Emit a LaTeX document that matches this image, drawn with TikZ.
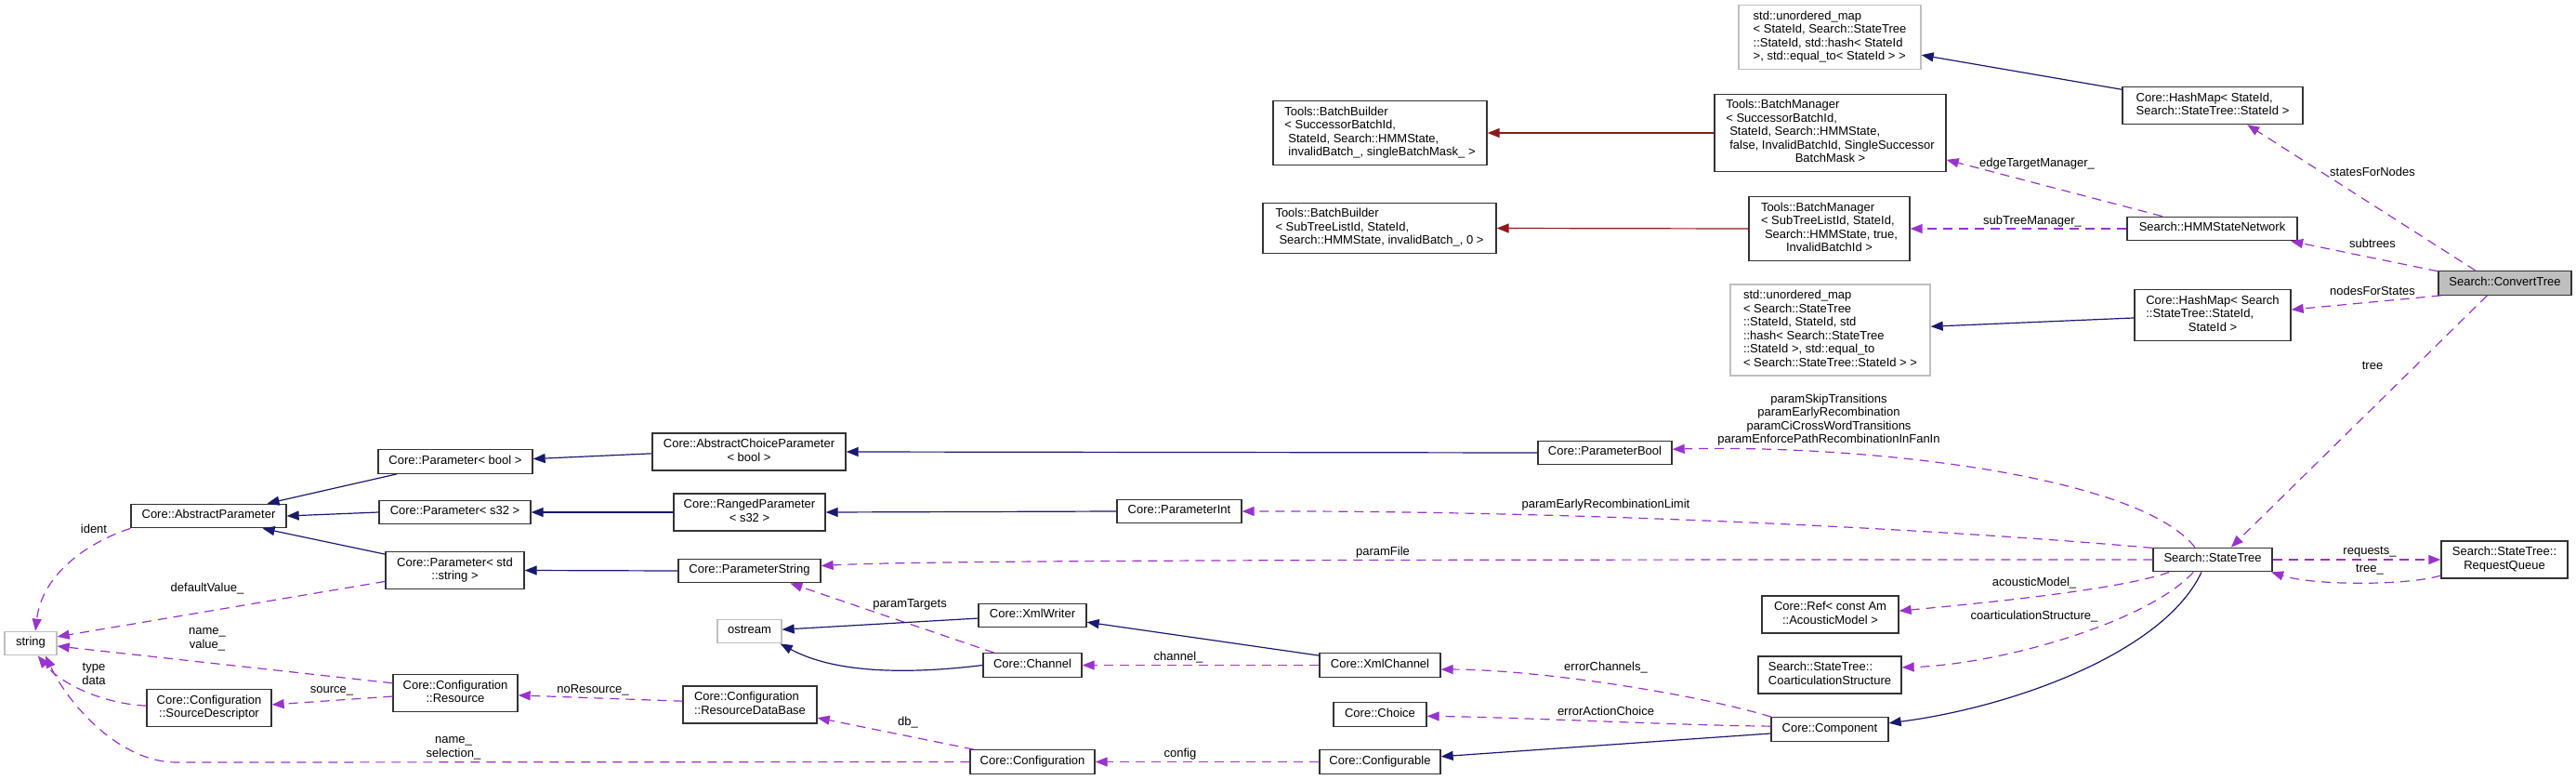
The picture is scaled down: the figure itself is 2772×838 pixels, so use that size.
\documentclass[tikz,border=0pt]{standalone}
\usepackage{fontspec}
\setmainfont{Liberation Sans}
\usetikzlibrary{arrows.meta}
\definecolor{navyc}{HTML}{191970}
\definecolor{purp}{HTML}{9A32CD}
\definecolor{firec}{HTML}{8B1A1A}
\definecolor{grayb}{HTML}{BFBFBF}
\definecolor{boxline}{HTML}{333333}
\newcommand{\nodetext}[1]{\begin{tabular}{@{}l@{}}#1\end{tabular}}
\newcommand{\lastc}[1]{\multicolumn{1}{@{}c@{}}{#1}}
\begin{document}
\begin{tikzpicture}[x=1pt,y=-1pt,
  box/.style={draw=boxline, line width=1.3pt, inner xsep=4pt, inner ysep=5.5pt, font=\fontsize{13}{14.5}\selectfont, fill=white},
  gbox/.style={box, draw=grayb},
  elab/.style={font=\fontsize{13}{14.5}\selectfont, inner sep=0pt, align=center},
  inh/.style={draw=navyc, line width=1.2pt, -{Triangle[length=13pt,width=10pt]}},
  use/.style={draw=purp, line width=1.2pt, dash pattern=on 10pt off 7pt, -{Triangle[length=13pt,width=10pt]}},
  tmpl/.style={draw=firec, line width=1.2pt, -{Triangle[length=13pt,width=10pt]}},
]
\useasboundingbox (0,0) rectangle (2772,838);

% ---- nodes ----
\node[gbox, minimum width=196pt] (um1) at (1969,40) {\nodetext{std::unordered\_map\\< StateId, Search::StateTree\\::StateId, std::hash< StateId\\>, std::equal\_to< StateId > >}};
\node[box, minimum width=194pt] (hm1) at (2381,113.5) {\nodetext{Core::HashMap< StateId,\\Search::StateTree::StateId >}};
\node[box, minimum width=249pt] (bm1) at (1969.5,143) {\nodetext{Tools::BatchManager\\< SuccessorBatchId,\\\hspace{4pt}StateId, Search::HMMState,\\\hspace{4pt}false, InvalidBatchId, SingleSuccessor\\\lastc{BatchMask >}}};
\node[box, minimum width=230pt] (bb1) at (1485,143) {\nodetext{Tools::BatchBuilder\\< SuccessorBatchId,\\\hspace{4pt}StateId, Search::HMMState,\\\hspace{4pt}invalidBatch\_, singleBatchMask\_ >}};
\node[box, minimum width=183pt] (hsn) at (2380.5,246) {\nodetext{Search::HMMStateNetwork}};
\node[box, minimum width=173pt] (bm2) at (1968.5,246) {\nodetext{Tools::BatchManager\\< SubTreeListId, StateId,\\\hspace{4pt}Search::HMMState, true,\\\lastc{InvalidBatchId >}}};
\node[box, minimum width=251pt] (bb2) at (1484.5,245.5) {\nodetext{Tools::BatchBuilder\\< SubTreeListId, StateId,\\\hspace{4pt}Search::HMMState, invalidBatch\_, 0 >}};
\node[box, fill=grayb, minimum width=143pt] (ct) at (2695.5,304.5) {\nodetext{Search::ConvertTree}};
\node[gbox, minimum width=215pt] (um2) at (1969.5,355) {\nodetext{std::unordered\_map\\< Search::StateTree\\::StateId, StateId, std\\::hash< Search::StateTree\\::StateId >, std::equal\_to\\< Search::StateTree::StateId > >}};
\node[box, minimum width=168pt] (hm2) at (2381,339) {\nodetext{Core::HashMap< Search\\::StateTree::StateId,\\\lastc{StateId >}}};
\node[box, minimum width=128pt] (st) at (2381,602) {\nodetext{Search::StateTree}};
\node[box, minimum width=136pt] (rq) at (2695,602) {\nodetext{Search::StateTree::\\\lastc{RequestQueue}}};
\node[box, minimum width=147pt] (ref) at (1969.5,661) {\nodetext{Core::Ref< const Am\\\lastc{::AcousticModel >}}};
\node[box, minimum width=154pt] (cs) at (1969,726) {\nodetext{Search::StateTree::\\CoarticulationStructure}};
\node[box, minimum width=126pt] (comp) at (1969,784.5) {\nodetext{Core::Component}};
\node[box, minimum width=144pt] (pb) at (1727,487) {\nodetext{Core::ParameterBool}};
\node[box, minimum width=134pt] (pi) at (1269,550) {\nodetext{Core::ParameterInt}};
\node[box, minimum width=116pt] (xw) at (1111,662) {\nodetext{Core::XmlWriter}};
\node[box, minimum width=106pt] (ch) at (1111,715.5) {\nodetext{Core::Channel}};
\node[box, minimum width=130pt] (xc) at (1485,715.5) {\nodetext{Core::XmlChannel}};
\node[box, minimum width=100pt] (cho) at (1485,768.5) {\nodetext{Core::Choice}};
\node[box, minimum width=134pt] (cfg) at (1111,819.5) {\nodetext{Core::Configuration}};
\node[box, minimum width=130pt] (cfb) at (1485,819.5) {\nodetext{Core::Configurable}};
\node[box, minimum width=208pt] (acp) at (806,486) {\nodetext{Core::AbstractChoiceParameter\\\lastc{< bool >}}};
\node[box, minimum width=166pt] (pbool) at (490,496.5) {\nodetext{Core::Parameter< bool >}};
\node[box, minimum width=167pt] (ap) at (224.5,555) {\nodetext{Core::AbstractParameter}};
\node[box, minimum width=163pt] (ps32) at (489.5,551) {\nodetext{Core::Parameter< s32 >}};
\node[box, minimum width=163pt] (rp) at (806.5,551) {\nodetext{Core::RangedParameter\\\lastc{< s32 >}}};
\node[box, minimum width=149pt] (pstd) at (489.5,613.5) {\nodetext{Core::Parameter< std\\\lastc{::string >}}};
\node[box, minimum width=153pt] (pstr) at (806.5,614) {\nodetext{Core::ParameterString}};
\node[gbox, minimum width=69pt] (os) at (806.5,679) {\nodetext{ostream}};
\node[gbox, minimum width=56pt] (str) at (33,692) {\nodetext{string}};
\node[box, minimum width=134pt] (res) at (490,745.5) {\nodetext{Core::Configuration\\\lastc{::Resource}}};
\node[box, minimum width=134pt] (sd) at (225,761.5) {\nodetext{Core::Configuration\\\lastc{::SourceDescriptor}}};
\node[box, minimum width=144pt] (rdb) at (807,758) {\nodetext{Core::Configuration\\::ResourceDataBase}};

% ---- edges ----
\draw[inh] (hm1.170) -- (um1.-11);
\draw[tmpl] (bm1.west) -- (bb1.east);
\draw[tmpl] (bm2.west) -- (bb2.east);
\draw[use] (hsn.166) -- (bm1.-13.5);
\draw[use] (hsn.west) -- (bm2.east);
\draw[use] (ct.157) -- (hm1.-29.7);
\draw[use] (ct.170) -- (hsn.-9.9);
\draw[use] (ct.-169.4) -- (hm2.4);
\draw[inh] (hm2.182) -- (um2.2.7);
\draw[use] (ct.-145.3) -- (st.34.4);
\draw[use] (st.east) -- (rq.west);
\draw[use] (rq.-166.8) .. controls (2590,630) and (2490,630) .. (st.-12);
\draw[inh] (st.-132.7) .. controls (2330,700) and (2170,760) .. (comp.6.8);
\draw[use] (st.-164.5) .. controls (2280,635) and (2120,650) .. (ref.3.1);
\draw[use] (st.-147) .. controls (2310,670) and (2150,715) .. (cs.6.7);
\draw[use] (st.145) .. controls (2300,510) and (2000,478) .. (pb.3.2);
\draw[use] (st.169.4) .. controls (2100,570) and (1700,549) .. (pi.east);
\draw[use] (st.west) .. controls (1600,602) and (1000,602) .. (pstr.4.5);
\draw[use] (ch.162.5) -- (pstr.-17);
\draw[inh] (xw.183) -- (os.3.3);
\draw[inh] (ch.west) .. controls (980,725) and (900,725) .. (os.-22);
\draw[inh] (xc.171.7) -- (xw.-7.9);
\draw[use] (xc.west) -- (ch.east);
\draw[use] (comp.168.8) .. controls (1820,745) and (1650,720) .. (xc.-4);
\draw[use] (comp.177.7) .. controls (1800,780) and (1650,772) .. (cho.-2.9);
\draw[inh] (comp.184) -- (cfb.5.7);
\draw[use] (cfb.west) -- (cfg.east);
\draw[use] (cfg.168.6) -- (rdb.-11.8);
\draw[use] (cfg.west) -- (190,820) .. controls (130,820) and (75,760) .. (str.-40);
\draw[use] (ap.-171) .. controls (90,585) and (45,620) .. (str.69);
\draw[use] (pstd.-171.2) -- (str.14);
\draw[use] (res.171) -- (str.-6);
\draw[use] (sd.178.7) .. controls (110,757) and (65,735) .. (str.-60);
\draw[use] (res.183.8) -- (sd.3.8);
\draw[use] (rdb.177.6) -- (res.-2.1);
\draw[inh] (pbool.-168) -- (ap.12.3);
\draw[inh] (ps32.west) -- (ap.east);
\draw[inh] (pstd.167.5) -- (ap.-13.2);
\draw[inh] (acp.181.7) -- (pbool.2.4);
\draw[inh] (rp.west) -- (ps32.east);
\draw[inh] (pstr.west) -- (pstd.east);
\draw[inh] (pb.west) -- (acp.east);
\draw[inh] (pi.west) -- (rp.east);

% ---- edge labels ----
\node[elab] (l1) at (2192,176) {edgeTargetManager\_};
\node[elab] (l2) at (2187,238) {subTreeManager\_};
\node[elab] (l3) at (2553,185) {statesForNodes};
\node[elab] (l4) at (2553,262) {subtrees};
\node[elab] (l5) at (2553,313) {nodesForStates};
\node[elab] (l6) at (2553,393) {tree};
\node[elab] (l7) at (2550,594) {requests\_};
\node[elab] (l8) at (2550,613) {tree\_};
\node[elab] (l9) at (2189,627) {acousticModel\_};
\node[elab] (l10) at (2189,663) {coarticulationStructure\_};
\node[elab] (l11) at (1968,451.5) {paramSkipTransitions\\paramEarlyRecombination\\paramCiCrossWordTransitions\\paramEnforcePathRecombinationInFanIn};
\node[elab] (l12) at (1728,543) {paramEarlyRecombinationLimit};
\node[elab] (l13) at (1488,594) {paramFile};
\node[elab] (l14) at (979,650) {paramTargets};
\node[elab] (l15) at (1268,707) {channel\_};
\node[elab] (l16) at (1728,718) {errorChannels\_};
\node[elab] (l17) at (1728,765) {errorActionChoice};
\node[elab] (l18) at (1270,811) {config};
\node[elab] (l19) at (977,777) {db\_};
\node[elab] (l20) at (488,805) {name\_\\selection\_};
\node[elab] (l21) at (101,569) {ident};
\node[elab] (l22) at (223,633) {defaultValue\_};
\node[elab] (l23) at (223,688) {name\_\\value\_};
\node[elab] (l24) at (101,725) {type\\data};
\node[elab] (l25) at (357,743) {source\_};
\node[elab] (l26) at (638,742) {noResource\_};
\end{tikzpicture}
\end{document}
